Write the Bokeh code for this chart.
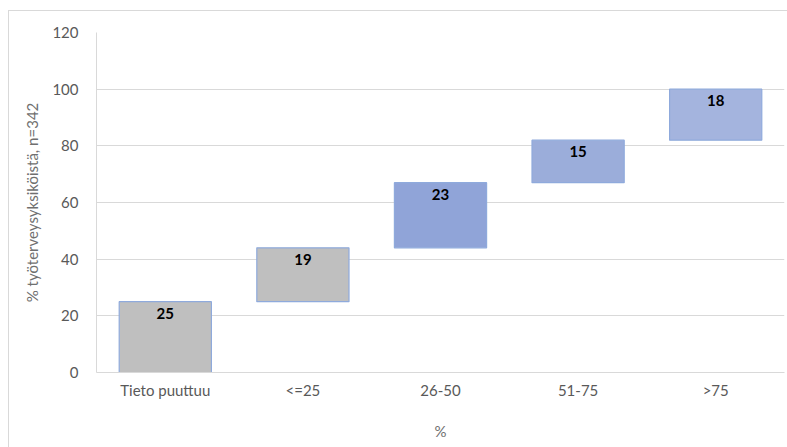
import numpy as np
from bokeh.plotting import figure
from bokeh.models import ColumnDataSource, FactorRange, Range1d, FixedTicker
from bokeh.core.properties import value
from bokeh.embed import file_html
from bokeh.resources import INLINE

# Share of occupational health units by category (waterfall steps)
categories = ["Tieto puuttuu", "<=25", "26-50", "51-75", ">75"]
values = [25, 19, 23, 15, 18]
fill_colors = ["#bfbfbf", "#bfbfbf", "#90a4d8", "#9badda", "#a4b4de"]
y_ticks = [0, 20, 40, 60, 80, 100, 120]

tops = np.cumsum(values)
bottoms = tops - np.array(values)

source = ColumnDataSource(dict(
    cat=categories,
    bottom=bottoms,
    top=tops,
    label=[str(v) for v in values],
    color=fill_colors,
))

FONT = "Lato"
GREY = "#595959"

p = figure(
    x_range=FactorRange(*categories, range_padding=0),
    y_range=Range1d(0, 120),
    width=779, height=437,
    output_backend="svg", toolbar_location=None,
    min_border_left=87, min_border_right=4,
    min_border_top=21, min_border_bottom=76,
)
p.margin = (10, 0, 0, 8)
p.styles = {"border-left": "1px solid #d9d9d9", "border-top": "1px solid #d9d9d9"}

p.vbar(x="cat", bottom="bottom", top="top", width=0.67, source=source,
       fill_color="color", line_color="#8faadc", line_width=1.2)

p.text(x="cat", y="top", text="label", source=source,
       text_font=value(FONT), text_font_style="bold", text_font_size="15px",
       text_color="#000000", text_align="center", text_baseline="top",
       y_offset=6)

p.outline_line_color = None
p.background_fill_color = "white"
p.border_fill_color = "white"

p.xgrid.grid_line_color = None
p.ygrid.grid_line_color = "#d9d9d9"
p.ygrid.grid_line_width = 1

p.yaxis.ticker = FixedTicker(ticks=y_ticks)
p.yaxis.axis_label = "% työterveysyksiköistä, n=342"
p.xaxis.axis_label = "%"

for ax in (p.xaxis[0], p.yaxis[0]):
    ax.axis_line_color = "#d9d9d9"
    ax.major_tick_line_color = None
    ax.minor_tick_line_color = None
    ax.major_label_text_font = FONT
    ax.major_label_text_font_size = "15px"
    ax.major_label_text_color = GREY
    ax.axis_label_text_font = FONT
    ax.axis_label_text_font_size = "15px"
    ax.axis_label_text_font_style = "normal"
    ax.axis_label_text_color = "#6f6f6f"

p.yaxis.major_label_standoff = 12
p.yaxis.axis_label_standoff = 8
p.xaxis.major_label_standoff = 2
p.xaxis.axis_label_standoff = 20

open("out.html", "w").write(file_html(p, INLINE))
